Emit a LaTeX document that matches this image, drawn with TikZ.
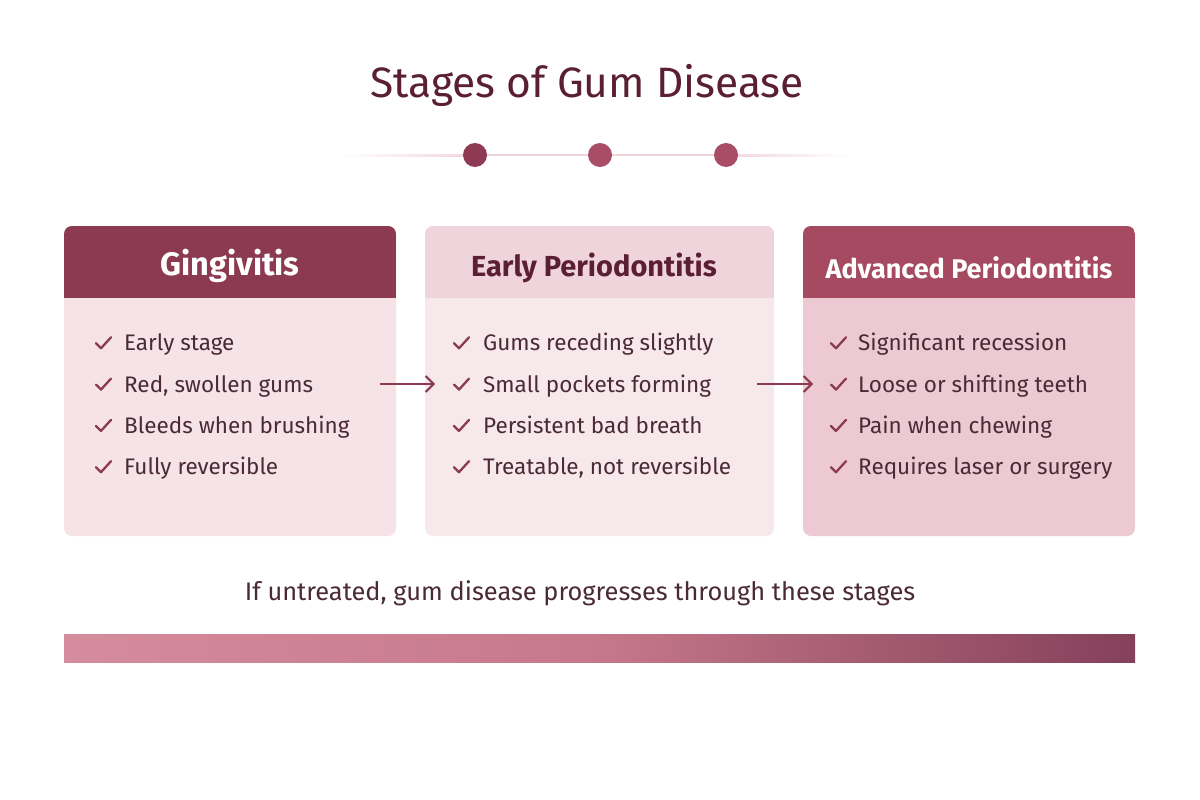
\documentclass[tikz,border=0pt]{standalone}
\usepackage{fontspec}
\setmainfont{Fira Sans}
\usetikzlibrary{arrows.meta}
\definecolor{titleink}{HTML}{5A1F35}
\definecolor{hdrA}{HTML}{8B3A52}
\definecolor{hdrB}{HTML}{F0D4DC}
\definecolor{hdrC}{HTML}{A64A62}
\definecolor{bodyA}{HTML}{F5E3E8}
\definecolor{bodyB}{HTML}{F7E8EC}
\definecolor{bodyC}{HTML}{EDCAD3}
\definecolor{ink}{HTML}{4A2A35}
\definecolor{chk}{HTML}{8B3A52}
\definecolor{dotA}{HTML}{8E3A55}
\definecolor{dotB}{HTML}{A84D65}
\definecolor{rule}{HTML}{F0D5DD}
\definecolor{barL}{HTML}{D58C9D}
\definecolor{barM}{HTML}{C57889}
\definecolor{barR}{HTML}{85405A}
\begin{document}
\begin{tikzpicture}[x=1pt,y=-1pt,
  itemtext/.style={anchor=base west,inner sep=0pt,text=ink,font=\fontsize{22.5}{26}\selectfont},
  chkmark/.style={draw=chk,line width=2.3pt,line cap=round,line join=round},
  hdrtext/.style={inner sep=0pt},
  arr/.style={draw=hdrA,line width=2pt,-{Straight Barb[length=8pt,width=16pt,line width=2pt]}},
  dot/.style={circle,inner sep=0pt,minimum size=24pt}]
\useasboundingbox (0,0) rectangle (1200,800);
\fill[white] (0,0) rectangle (1200,800);
% title
\node[text=titleink,font=\fontsize{42.5}{48}\selectfont] (title) at (587,85) {Stages of Gum Disease};
% rule with dots
\shade[left color=white,right color=rule] (340,154) rectangle (475,156);
\shade[left color=rule,right color=white] (726,154) rectangle (850,156);
\fill[rule] (475,154) rectangle (726,156);
\node[dot,fill=dotA] (d1) at (475,155) {};
\node[dot,fill=dotB] (d2) at (600,155) {};
\node[dot,fill=dotB] (d3) at (726,155) {};
% boxes
\node[fill=bodyA,rounded corners=8pt,minimum width=332pt,minimum height=310pt,inner sep=0pt] (b1) at (230,381) {};
\begin{scope}
\clip[rounded corners=8pt] (64,226) rectangle (396,536);
\fill[hdrA] (64,226) rectangle (396,298);
\end{scope}
\node[fill=bodyB,rounded corners=8pt,minimum width=349pt,minimum height=310pt,inner sep=0pt] (b2) at (599.5,381) {};
\begin{scope}
\clip[rounded corners=8pt] (425,226) rectangle (774,536);
\fill[hdrB] (425,226) rectangle (774,298);
\end{scope}
\node[fill=bodyC,rounded corners=8pt,minimum width=332pt,minimum height=310pt,inner sep=0pt] (b3) at (969,381) {};
\begin{scope}
\clip[rounded corners=8pt] (803,226) rectangle (1135,536);
\fill[hdrC] (803,226) rectangle (1135,298);
\end{scope}
% headers
\node[hdrtext,text=white,font=\bfseries\fontsize{32.5}{36}\selectfont] (h1) at (230,266) {Gingivitis};
\node[hdrtext,text=titleink,font=\bfseries\fontsize{29}{34}\selectfont] (h2) at (594,268) {Early Periodontitis};
\node[hdrtext,text=white,font=\bfseries\fontsize{27}{32}\selectfont] (h3) at (969,268) {Advanced Periodontitis};
% items
\foreach \i/\t in {1/Early stage,2/{Red, swollen gums},3/Bleeds when brushing,4/Fully reversible}{
  \draw[chkmark] ({96},{302+41.3*\i}) -- ({101},{307+41.3*\i}) -- ({111},{296+41.3*\i});
  \node[itemtext] (t1\i) at (124,{309.5+41.3*\i}) {\t};
}
\foreach \i/\t in {1/Gums receding slightly,2/Small pockets forming,3/Persistent bad breath,4/{Treatable, not reversible}}{
  \draw[chkmark] ({454},{302+41.3*\i}) -- ({459},{307+41.3*\i}) -- ({469},{296+41.3*\i});
  \node[itemtext] (t2\i) at (483,{309.5+41.3*\i}) {\t};
}
\foreach \i/\t in {1/Significant recession,2/Loose or shifting teeth,3/Pain when chewing,4/Requires laser or surgery}{
  \draw[chkmark] ({831},{302+41.3*\i}) -- ({836},{307+41.3*\i}) -- ({846},{296+41.3*\i});
  \node[itemtext] (t3\i) at (858,{309.5+41.3*\i}) {\t};
}
% arrows
\coordinate (a1s) at (380,384);
\coordinate (a1e) at (435,384);
\coordinate (a2s) at (757,384);
\coordinate (a2e) at (813,384);
\draw[arr] (a1s) -- (a1e);
\draw[arr] (a2s) -- (a2e);
% footer
\node[text=ink,font=\fontsize{25.4}{30}\selectfont] (foot) at (580,593) {If untreated, gum disease progresses through these stages};
% gradient bar
\shade[left color=barL,right color=barM] (64,634) rectangle (600,662);
\shade[left color=barM,right color=barR] (600,634) rectangle (1135,662);
\end{tikzpicture}
\end{document}
